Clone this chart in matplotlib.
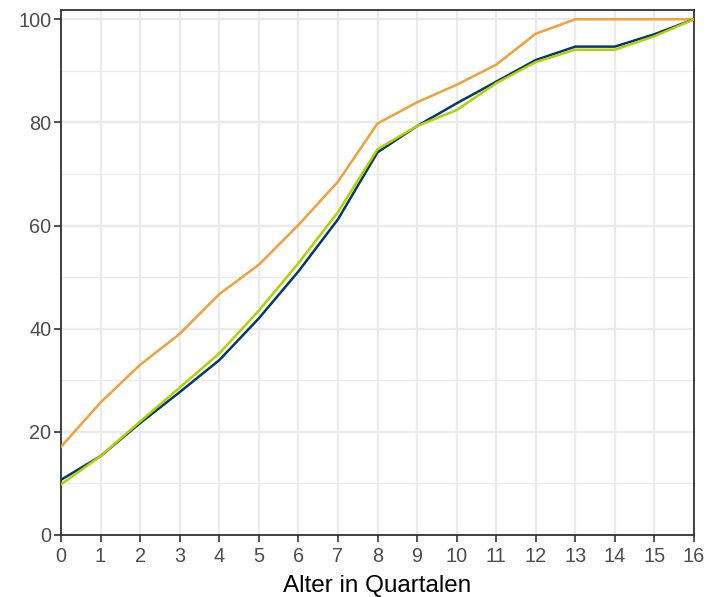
import matplotlib
matplotlib.use("Agg")
import matplotlib.pyplot as plt

quarters = list(range(0, 17))
orange_vals = [17.1, 25.7, 33.0, 39.0, 46.7, 52.4, 60.1, 68.5, 79.8, 83.9, 87.3, 91.2, 97.2, 100, 100, 100, 100]
blue_vals = [10.7, 15.3, 21.7, 27.7, 33.9, 42.0, 51.1, 61.2, 74.2, 79.3, 83.7, 87.9, 92.1, 94.7, 94.7, 97.1, 100]
green_vals = [9.8, 15.3, 22.0, 28.6, 35.2, 43.5, 52.7, 62.6, 74.8, 79.3, 82.4, 87.6, 91.7, 94.1, 94.1, 96.7, 100]

x_label = "Alter in Quartalen"
y_ticks = [0, 20, 40, 60, 80, 100]
y_minor = [10, 30, 50, 70, 90]

plt.rcParams['font.family'] = ['Liberation Sans', 'DejaVu Sans']

fig = plt.figure(figsize=(7.09, 5.97), dpi=100)
ax = fig.add_axes([61/709, (597-535)/597, (694-61)/709, (535-10)/597])

grid_c = "#EBEBEB"
for yv in y_minor:
    ax.axhline(yv, color=grid_c, lw=0.9, zorder=0)
for yv in y_ticks:
    ax.axhline(yv, color=grid_c, lw=1.6, zorder=0)
for xv in quarters:
    ax.axvline(xv, color=grid_c, lw=1.6, zorder=0)

ax.plot(quarters, orange_vals, color="#F0A13C", lw=1.8, zorder=3)
ax.plot(quarters, blue_vals, color="#003A70", lw=1.8, zorder=3)
ax.plot(quarters, green_vals, color="#B4D000", lw=1.8, zorder=4)

ax.set_xlim(0, 16)
ax.set_ylim(0, 101.8)
ax.set_xticks(quarters)
ax.set_yticks(y_ticks)
ax.tick_params(axis='both', which='major', length=5, width=1.2, color="#333333",
               labelcolor="#4D4D4D", labelsize=14.3, pad=2)
ax.tick_params(axis='x', pad=4)
for s in ax.spines.values():
    s.set_color("#333333")
    s.set_linewidth(1.3)
ax.set_xlabel(x_label, fontsize=17.5, color="black", labelpad=6)

fig.savefig("out.png", dpi=100)
